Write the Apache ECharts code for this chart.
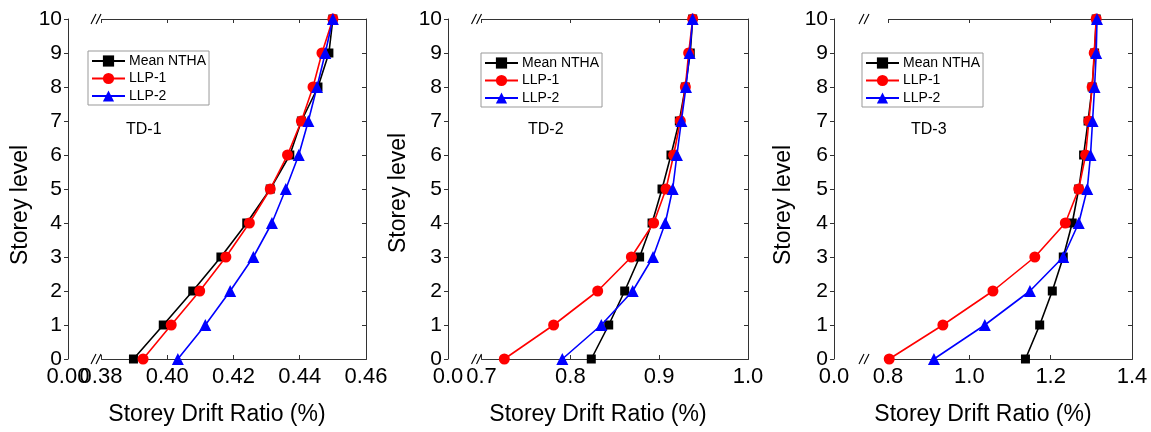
<!DOCTYPE html>
<html>
<head>
<meta charset="utf-8">
<script src="https://cdn.jsdelivr.net/npm/echarts@6.0.0/dist/echarts.min.js"></script>
<style>
  html, body { margin: 0; padding: 0; background: #fff; }
  #chart { width: 1151px; height: 432px; }
</style>
</head>
<body>
<div id="chart"></div>
<script>
// Storey levels (y axis)
const levels = [0, 1, 2, 3, 4, 5, 6, 7, 8, 9, 10];
const seriesNames = ['Mean NTHA', 'LLP-1', 'LLP-2'];
const panelTitles = ['TD-1', 'TD-2', 'TD-3'];

// Storey drift ratio (%) per level, TD-1
const td1Mean = [0.3898, 0.3988, 0.4077, 0.4162, 0.4240, 0.4311, 0.4370, 0.4405, 0.4455, 0.4488, 0.4500];
const td1Llp1 = [0.3927, 0.4012, 0.4098, 0.4177, 0.4248, 0.4311, 0.4363, 0.4405, 0.4440, 0.4467, 0.4500];
const td1Llp2 = [0.4032, 0.4115, 0.4190, 0.4260, 0.4316, 0.4358, 0.4397, 0.4426, 0.4452, 0.4477, 0.4500];

// TD-2
const td2Mean = [0.8236, 0.8432, 0.8612, 0.8780, 0.8920, 0.9032, 0.9133, 0.9227, 0.9295, 0.9350, 0.9377];
const td2Llp1 = [0.7257, 0.7812, 0.8308, 0.8687, 0.8938, 0.9077, 0.9163, 0.9238, 0.9295, 0.9332, 0.9377];
const td2Llp2 = [0.7910, 0.8349, 0.8702, 0.8931, 0.9069, 0.9152, 0.9200, 0.9250, 0.9302, 0.9343, 0.9377];

// TD-3
const td3Mean = [1.138, 1.173, 1.204, 1.231, 1.253, 1.269, 1.281, 1.292, 1.302, 1.308, 1.312];
const td3Llp1 = [0.803, 0.935, 1.058, 1.161, 1.236, 1.269, 1.286, 1.294, 1.302, 1.307, 1.312];
const td3Llp2 = [0.913, 1.038, 1.149, 1.231, 1.269, 1.290, 1.298, 1.303, 1.308, 1.312, 1.314];

// X tick label values (origin, then values after the axis break)
const td1XTicks = [0, 0.38, 0.40, 0.42, 0.44, 0.46];
const td2XTicks = [0, 0.7, 0.8, 0.9, 1.0];
const td3XTicks = [0, 0.8, 1.0, 1.2, 1.4];
const xDecimals = [2, 1, 1];

const FONT = '"Liberation Sans", Arial, sans-serif';
const panelData = [
  [td1Mean, td1Llp1, td1Llp2],
  [td2Mean, td2Llp1, td2Llp2],
  [td3Mean, td3Llp1, td3Llp2]
];
const panelTicks = [td1XTicks, td2XTicks, td3XTicks];

const grids = [
  { left: 68, top: 19, width: 298, height: 340 },
  { left: 448, top: 19, width: 300, height: 340 },
  { left: 834, top: 19, width: 298, height: 340 }
];
const breakGaps = [0.00996, 0.0377, 0.1328];
const breakMarkOffsets = [4, 4, 23];
const legendPos = [
  { left: 88, top: 51 },
  { left: 481, top: 53 },
  { left: 862, top: 53 }
];
const titlePos = [
  { left: 126, top: 122 },
  { left: 528, top: 122 },
  { left: 911, top: 122 }
];
const yNameGap = [36, 38, 39];
const yNameShift = [32, 8, 32];

const colors = ['#000000', '#ff0000', '#0000ff'];
const symbols = ['rect', 'circle', 'triangle'];
const symbolSizes = [9, 11, 12];

const axisColor = '#333';
const labelStyle = { fontFamily: FONT, fontSize: 22, color: '#000', margin: 7 };

const xAxes = [], yAxes = [], series = [], legends = [], titles = [];

for (let p = 0; p < 3; p++) {
  const ticks = panelTicks[p];
  const xMin = ticks[0];
  const xBreakEnd = ticks[1];
  const xMax = ticks[ticks.length - 1];
  const fmt = (v) => Number(v).toFixed(xDecimals[p]);
  const baseX = {
    type: 'value',
    gridIndex: p,
    min: xMin,
    max: xMax,
    breaks: [{ start: xMin, end: xBreakEnd, gap: breakGaps[p] }],
    breakArea: { show: false },
    breakLabelLayout: { moveOverlap: false },
    splitLine: { show: false },
    axisLine: { onZero: false, lineStyle: { color: axisColor, width: 1 } },
    axisTick: {
      inside: true, length: 4, lineStyle: { color: axisColor },
      customValues: ticks.slice(1)
    }
  };
  // bottom axis: ticks and labels after the break, plus the axis title
  xAxes.push(Object.assign({}, baseX, {
    position: 'bottom',
    name: 'Storey Drift Ratio (%)',
    nameLocation: 'middle',
    nameGap: 44,
    nameTextStyle: { fontFamily: FONT, fontSize: 23, color: '#000' },
    axisLabel: Object.assign({}, labelStyle, {
      customValues: ticks.slice(1),
      showMinLabel: true, showMaxLabel: true, hideOverlap: false,
      formatter: fmt
    })
  }));
  // top axis: frame line with inward ticks
  xAxes.push(Object.assign({}, baseX, {
    position: 'top',
    axisLabel: { show: false }
  }));
  // origin label on the bottom edge
  xAxes.push(Object.assign({}, baseX, {
    position: 'bottom',
    axisLine: { show: false },
    axisTick: { show: false },
    axisLabel: Object.assign({}, labelStyle, {
      customValues: [xMin],
      showMinLabel: true,
      formatter: fmt
    })
  }));

  const baseY = {
    type: 'value',
    gridIndex: p,
    min: 0, max: 10, interval: 1,
    splitLine: { show: false },
    axisLine: { onZero: false, lineStyle: { color: axisColor, width: 1 } }
  };
  yAxes.push(Object.assign({}, baseY, {
    position: 'left',
    name: 'Storey level',
    nameLocation: 'middle',
    nameGap: yNameGap[p],
    nameTextStyle: { fontFamily: FONT, fontSize: 23, color: '#000', padding: [0, yNameShift[p], 0, 0] },
    axisTick: { inside: false, length: 4, lineStyle: { color: axisColor } },
    axisLabel: { fontFamily: FONT, fontSize: 21, color: '#000', margin: 6, showMinLabel: true, showMaxLabel: true }
  }));
  yAxes.push(Object.assign({}, baseY, {
    position: 'right',
    axisTick: { inside: true, length: 4, lineStyle: { color: axisColor } },
    axisLabel: { show: false }
  }));

  for (let s = 0; s < 3; s++) {
    const vals = panelData[p][s];
    series.push({
      type: 'line',
      name: seriesNames[s],
      xAxisIndex: 3 * p,
      yAxisIndex: 2 * p,
      data: levels.map((lv, i) => [vals[i], lv]),
      symbol: symbols[s],
      symbolSize: symbolSizes[s],
      showAllSymbol: true,
      lineStyle: { color: colors[s], width: 1.6 },
      itemStyle: { color: colors[s], borderWidth: 0 },
      z: 2 + s,
      animation: false
    });
  }

  legends.push({
    data: seriesNames,
    orient: 'vertical',
    left: legendPos[p].left,
    top: legendPos[p].top,
    itemWidth: 33,
    itemHeight: 14,
    itemGap: 3.5,
    padding: [3, 3, 2, 3],
    borderColor: '#999',
    borderWidth: 1,
    selectedMode: false,
    textStyle: { fontFamily: FONT, fontSize: 14, lineHeight: 14, color: '#000', padding: [0, 0, 0, -1] }
  });

  titles.push({
    text: panelTitles[p],
    left: titlePos[p].left,
    top: titlePos[p].top,
    padding: 0,
    textStyle: { fontFamily: FONT, fontSize: 16, fontWeight: 'normal', color: '#000' }
  });
}

const chart = echarts.init(document.getElementById('chart'), null, { renderer: 'canvas' });
chart.setOption({
  animation: false,
  backgroundColor: '#fff',
  title: titles,
  legend: legends,
  grid: grids.map(g => Object.assign({ containLabel: false, show: false }, g)),
  xAxis: xAxes,
  yAxis: yAxes,
  series: series
});

// Axis-break "//" marks on the bottom and top axis lines
const graphics = [];
for (let p = 0; p < 3; p++) {
  const bx = chart.convertToPixel({ xAxisIndex: 3 * p }, panelTicks[p][1]) - breakMarkOffsets[p];
  const yb = chart.convertToPixel({ yAxisIndex: 2 * p }, 0);
  const yt = chart.convertToPixel({ yAxisIndex: 2 * p }, 10);
  [yb, yt].forEach((yy) => {
    graphics.push({
      type: 'rect', shape: { x: bx - 3, y: yy - 2, width: 5, height: 4 },
      style: { fill: '#fff' }, z: 100, silent: true
    });
    graphics.push({
      type: 'line', shape: { x1: bx - 6, y1: yy + 5, x2: bx - 1, y2: yy - 5 },
      style: { stroke: '#000', lineWidth: 1.1 }, z: 101, silent: true
    });
    graphics.push({
      type: 'line', shape: { x1: bx - 1, y1: yy + 5, x2: bx + 4, y2: yy - 5 },
      style: { stroke: '#000', lineWidth: 1.1 }, z: 101, silent: true
    });
  });
}
chart.setOption({ graphic: graphics });
</script>
</body>
</html>
